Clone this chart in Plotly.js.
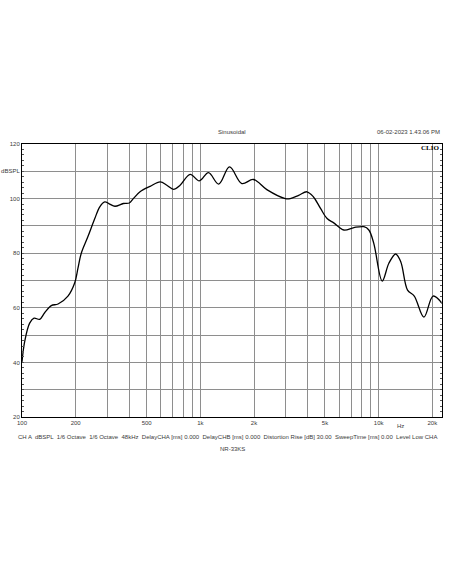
<!DOCTYPE html>
<html>
<head>
<meta charset="utf-8">
<script src="https://cdn.plot.ly/plotly-3.0.1.min.js"></script>
<style>
html,body{margin:0;padding:0;background:#fff;}
#chart{width:452px;height:584px;}
</style>
</head>
<body>
<div id="chart"></div>
<script>
// Frequency response (Hz) and level (dBSPL)
const freqHz = [100, 103.5, 110.4, 116.8, 125.7, 134, 146, 159.3, 181, 197.6, 206, 215, 234, 256, 273, 291, 310, 332, 370, 400, 421, 459, 523, 596, 649, 707, 770, 877, 987, 1111, 1268, 1458, 1710, 1985, 2360, 2995, 3190, 3560, 3960, 4310, 4720, 5140, 5600, 6380, 7270, 8260, 8810, 9390, 10470, 11410, 12450, 13300, 14520, 15840, 17940, 20200, 22700];
const levelDb = [40.2, 47.6, 54.4, 56.2, 55.8, 58.2, 60.8, 61.4, 64.3, 69.2, 74.5, 80, 86, 92.7, 97, 98.8, 98, 97.2, 98.2, 98.4, 100, 102.5, 104.5, 106.1, 104.9, 103.4, 104.9, 108.9, 106.5, 109.5, 105.3, 111.6, 105.5, 107, 103.3, 100, 100, 101.2, 102.5, 100.6, 96.4, 92.7, 91.1, 88.5, 89.4, 89.7, 88.5, 83.6, 69.8, 76.3, 79.7, 76.9, 66.5, 64.3, 56.6, 64.3, 61.6];

const xTickVals = [100,200,300,400,500,600,700,800,900,1000,2000,3000,4000,5000,6000,7000,8000,9000,10000,20000];
const xTickText = ['100','200','','','500','','','','','1k','2k','','','5k','','','','','10k','20k'];
const yTickVals = [20,30,40,50,60,70,80,90,100,110,120];
const yTickText = ['20','','40','','60','','80','','100','dBSPL','120'];

const chartTitle = 'Sinusoidal';
const dateText = '06-02-2023 1.43.06 PM';
const footerText = 'CH A &nbsp;dBSPL &nbsp;1/6 Octave &nbsp;1/6 Octave &nbsp;48kHz &nbsp;DelayCHA [ms] 0.000 &nbsp;DelayCHB [ms] 0.000 &nbsp;Distortion Rise [dB] 30.00 &nbsp;SweepTime [ms] 0.00 &nbsp;Level Low CHA';
const deviceName = 'NR-33KS';

const F = 'Liberation Sans, Arial, sans-serif';
const TC = '#3a3a3a';
const trace = {
  x: freqHz, y: levelDb, type: 'scatter', mode: 'lines',
  line: {color: '#000', width: 1.3, shape: 'spline', smoothing: 1},
  hoverinfo: 'skip'
};
const layout = {
  width: 452, height: 584,
  margin: {l: 22, r: 10, t: 144, b: 167},
  paper_bgcolor: '#fff', plot_bgcolor: '#fff',
  showlegend: false,
  font: {family: F, size: 6, color: TC},
  xaxis: {
    type: 'log', range: [2, 4.3552],
    tickvals: xTickVals, ticktext: xTickText,
    showgrid: true, gridcolor: '#8e8e8e', gridwidth: 1,
    showline: true, linecolor: '#000', linewidth: 1, mirror: true,
    ticks: '', zeroline: false,
    tickfont: {family: F, size: 6, color: TC}
  },
  yaxis: {
    range: [20, 120],
    tickvals: yTickVals, ticktext: yTickText,
    showgrid: true, gridcolor: '#8e8e8e', gridwidth: 1,
    showline: true, linecolor: '#000', linewidth: 1, mirror: 'ticks',
    ticks: 'inside', ticklen: 0, zeroline: false,
    minor: {dtick: 2, ticks: 'inside', ticklen: 2, tickcolor: '#555', showgrid: false},
    tickfont: {family: F, size: 6, color: TC}
  },
  annotations: [
    {text: chartTitle, xref: 'paper', yref: 'paper', x: 0.5, y: 1, yshift: 12, showarrow: false, xanchor: 'center', yanchor: 'middle', font: {family: F, size: 6, color: TC}},
    {text: dateText, xref: 'paper', yref: 'paper', x: 1, y: 1, yshift: 12, showarrow: false, xanchor: 'right', yanchor: 'middle', font: {family: F, size: 6, color: TC}},
    {text: '<b>CLIO</b>', xref: 'paper', yref: 'paper', x: 1, y: 1, xshift: -1, yshift: -4, showarrow: false, xanchor: 'right', yanchor: 'middle', font: {family: 'Liberation Serif, serif', size: 7, color: '#000'}},
    {text: 'Hz', xref: 'paper', yref: 'paper', x: 0.9, y: 0, yshift: -9, showarrow: false, xanchor: 'center', yanchor: 'middle', font: {family: F, size: 6, color: TC}},
    {text: footerText, xref: 'paper', yref: 'paper', x: 0.5, y: 0, xshift: -5, yshift: -20, showarrow: false, xanchor: 'center', yanchor: 'middle', font: {family: F, size: 6, color: TC}},
    {text: deviceName, xref: 'paper', yref: 'paper', x: 0.5, y: 0, yshift: -32, showarrow: false, xanchor: 'center', yanchor: 'middle', font: {family: F, size: 6, color: TC}}
  ]
};
Plotly.newPlot('chart', [trace], layout, {displayModeBar: false, staticPlot: true});
</script>
</body>
</html>
